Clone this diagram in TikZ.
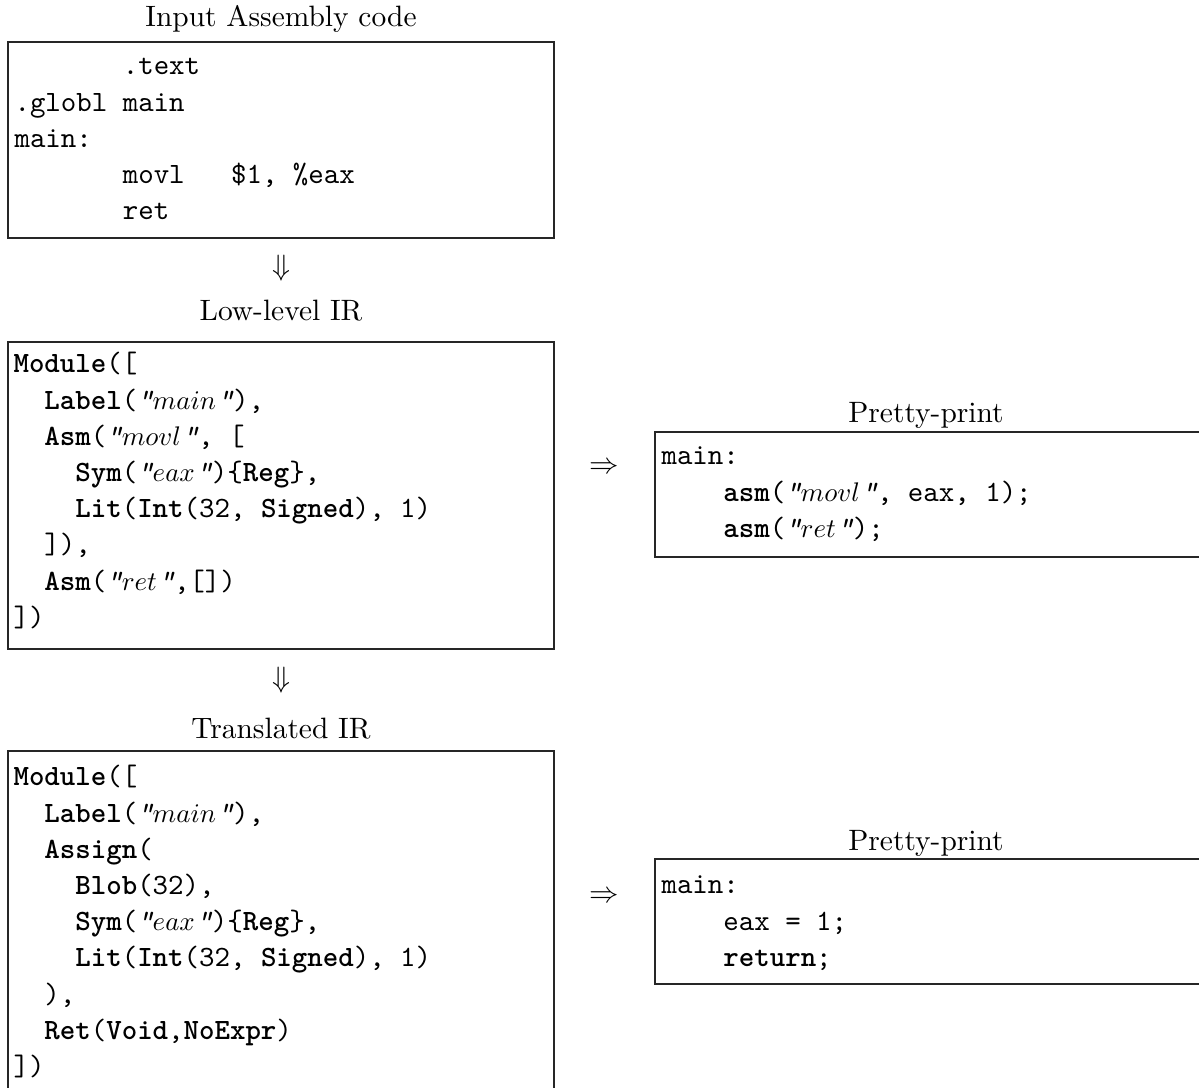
\documentclass[tikz,border=0pt]{standalone}
\usetikzlibrary{fit}

% width of one typewriter column at the code size
\newdimen\ttw \ttw=5.75pt
\newcommand\ind[1]{\hspace*{#1\ttw}}
\newcommand\kw[1]{\textbf{#1}}
% string literal: slanted quotes round an italic word
\newcommand\strlit[1]{{\itshape"}{\fontsize{9.9}{12}\selectfont$#1$}\kern0.6pt{\itshape"}}

\tikzset{
  px/.style={x=0.3717pt,y=-0.3717pt},
  codebox/.style={draw=black!85, line width=0.45pt, rectangle, inner sep=0pt},
  code/.style={anchor=base west, inner sep=0pt, font=\fontsize{10.95}{13.45}\selectfont\ttfamily},
  caption/.style={anchor=base, inner sep=0pt, font=\fontsize{10.95}{13.6}\selectfont},
  flow/.style={anchor=center, inner sep=0pt, font=\fontsize{10.95}{13.6}\selectfont},
}

\begin{document}
\begin{tikzpicture}[px]
\useasboundingbox (0,0) rectangle (1199,1088);
\clip (0,0) rectangle (1199,1088);

% frames
\node[codebox, fit={(8,42) (554,238)}]   (b1) {};
\node[codebox, fit={(8,342) (554,649)}]  (b2) {};
\node[codebox, fit={(8,751) (554,1110)}] (b3) {};
\node[codebox, fit={(655,432) (1202,557)}] (p1) {};
\node[codebox, fit={(655,859) (1202,984)}] (p2) {};

% captions
\node[caption] (t1) at (281,27)  {Input Assembly code};
\node[caption] (t2) at (281,321) {Low-level IR};
\node[caption] (t3) at (281,739) {Translated IR};
\node[caption] (t4) at (926,423) {Pretty-print};
\node[caption] (t5) at (926,851) {Pretty-print};

% flow marks
\node[flow] (d1) at (281,268) {$\Downarrow$};
\node[flow] (d2) at (281,680) {$\Downarrow$};
\node[flow] (r1) at (604,468) {$\Rightarrow$};
\node[flow] (r2) at (604,897) {$\Rightarrow$};

% assembly source
\node[code] (c1) at (14,75) {\begin{minipage}[t]{190pt}
\ind{7}.text\\
.globl main\\
main:\\
\ind{7}movl\ind{3}\$1, \%eax\\
\ind{7}ret
\end{minipage}};

% low-level IR
\node[code] (c2) at (13,373) {\begin{minipage}[t]{190pt}
\kw{Module}([\\
\ind{2}\kw{Label}(\strlit{main}),\\
\ind{2}\kw{Asm}(\strlit{movl}, [\\
\ind{4}\kw{Sym}(\strlit{eax})\{\kw{Reg}\},\\
\ind{4}\kw{Lit}(\kw{Int}(32, \kw{Signed}), 1)\\
\ind{2}]),\\
\ind{2}\kw{Asm}(\strlit{ret},[])\\
])
\end{minipage}};

% translated IR
\node[code] (c3) at (13,786) {\begin{minipage}[t]{190pt}
\kw{Module}([\\
\ind{2}\kw{Label}(\strlit{main}),\\
\ind{2}\kw{Assign}(\\
\ind{4}\kw{Blob}(32),\\
\ind{4}\kw{Sym}(\strlit{eax})\{\kw{Reg}\},\\
\ind{4}\kw{Lit}(\kw{Int}(32, \kw{Signed}), 1)\\
\ind{2}),\\
\ind{2}\kw{Ret}(\kw{Void},\kw{NoExpr})\\
])
\end{minipage}};

% pretty-printed forms
\node[code] (c4) at (661,465) {\begin{minipage}[t]{200pt}
main:\\
\ind{4}\kw{asm}(\strlit{movl}, eax, 1);\\
\ind{4}\kw{asm}(\strlit{ret});
\end{minipage}};

\node[code] (c5) at (661,894) {\begin{minipage}[t]{200pt}
main:\\
\ind{4}eax = 1;\\
\ind{4}\kw{return};
\end{minipage}};
\end{tikzpicture}
\end{document}
